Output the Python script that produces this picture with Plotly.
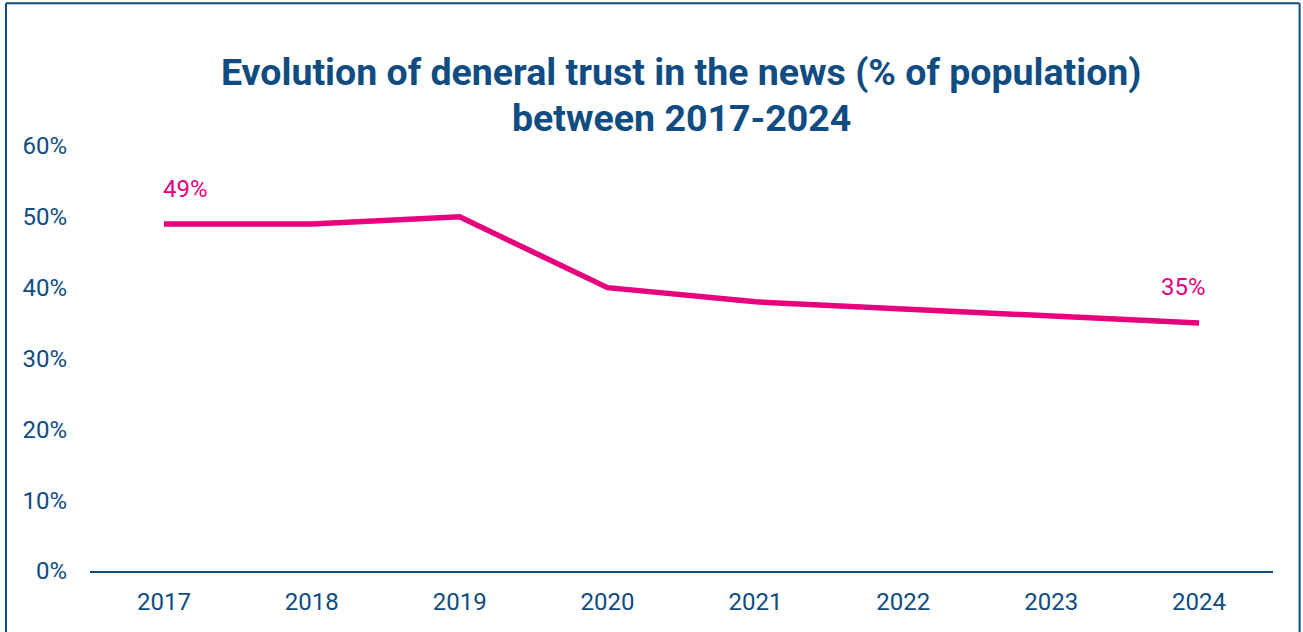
import plotly.graph_objects as go

years = ["2017", "2018", "2019", "2020", "2021", "2022", "2023", "2024"]
trust = [49, 49, 50, 40, 38, 37, 36, 35]
y_ticks = [0, 10, 20, 30, 40, 50, 60]
y_tick_text = ["0%", "10%", "20%", "30%", "40%", "50%", "60%"]
title_lines = ["Evolution of deneral trust in the news (% of population)", "between 2017-2024"]

BLUE = "#0f4c81"
PINK = "#e6007e"
FONT = "Roboto"

fig = go.Figure()
fig.add_trace(go.Scatter(
    x=years, y=trust, mode="lines",
    line=dict(color=PINK, width=5.5),
    hoverinfo="x+y",
))

# value labels for first and last year (positioned by category index)
fig.add_annotation(x=0, y=trust[0], text=f"{trust[0]}%", showarrow=False,
                   xshift=22, yshift=35, font=dict(family=FONT, size=24, color=PINK))
fig.add_annotation(x=len(years) - 1, y=trust[-1], text=f"{trust[-1]}%", showarrow=False,
                   xshift=-16, yshift=36, font=dict(family=FONT, size=24, color=PINK))

# two-line title
for line_text, ypos in zip(title_lines, [1.2306, 1.1224]):
    fig.add_annotation(
        x=0.5, xref="paper", y=ypos, yref="paper", yanchor="top", showarrow=False,
        text=f"<b>{line_text}</b>",
        font=dict(family=FONT, size=37.5, color=BLUE),
    )

# frame around the chart
for x0, y0, x1, y1 in [(-0.071, 1.336, 1.0225, 1.336), (-0.071, 1.336, -0.071, -0.2),
                       (1.0225, 1.336, 1.0225, -0.2)]:
    fig.add_shape(type="line", xref="paper", yref="paper", x0=x0, y0=y0, x1=x1, y1=y1,
                  line=dict(color=BLUE, width=2))

fig.update_layout(
    width=1303, height=632,
    margin=dict(l=90, r=30, t=146, b=61),
    paper_bgcolor="white", plot_bgcolor="white",
    showlegend=False,
    font=dict(family=FONT, color=BLUE),
    xaxis=dict(
        type="category", range=[-0.5, 7.5],
        showgrid=False, showline=True, linecolor=BLUE, linewidth=2,
        ticks="", tickfont=dict(family=FONT, size=24, color=BLUE),
        ticklabelstandoff=8,
    ),
    yaxis=dict(
        range=[0, 60], tickvals=y_ticks, ticktext=y_tick_text,
        showgrid=False, zeroline=False, showline=False,
        ticks="", tickfont=dict(family=FONT, size=24, color=BLUE),
        ticklabelstandoff=22,
    ),
)

fig.write_html("out.html")
